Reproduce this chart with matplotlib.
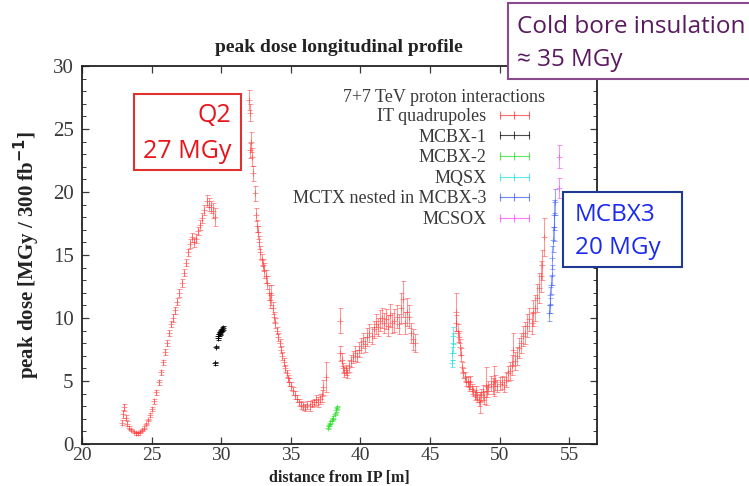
import matplotlib
matplotlib.use("Agg")
import matplotlib.pyplot as plt
from matplotlib.lines import Line2D
from matplotlib.patches import Rectangle

# IT quadrupoles (x [m], peak dose [MGy], error)
quad_x = [22.85, 22.95, 23.05, 23.15, 23.25, 23.4, 23.55, 23.7, 23.85, 24.0,
          24.15, 24.3, 24.45, 24.6, 24.75, 24.9, 25.05, 25.2, 25.35, 25.5,
          25.65, 25.8, 25.95, 26.1, 26.25, 26.4, 26.55, 26.7, 26.85, 27.0,
          27.15, 27.3, 27.45, 27.6, 27.75, 27.9, 28.05, 28.2, 28.35, 28.5,
          28.65, 28.8, 28.95, 29.1, 29.25, 29.4, 29.55,
          32.0, 32.05, 32.1, 32.15, 32.2, 32.3, 32.4, 32.5, 32.55, 32.65,
          32.7, 32.8, 32.9, 33.0, 33.1, 33.2, 33.3, 33.4, 33.5, 33.6,
          33.7, 33.8, 33.9, 34.0, 34.1, 34.2, 34.3, 34.4, 34.5, 34.6,
          34.7, 34.8, 34.9, 35.0, 35.15, 35.3, 35.45, 35.6, 35.75, 35.9,
          36.05, 36.2, 36.35, 36.5, 36.65, 36.8, 36.95, 37.1, 37.25, 37.35,
          37.5,
          38.5, 38.55, 38.65, 38.75, 38.85, 38.95, 39.05, 39.15, 39.3, 39.45,
          39.6, 39.75, 39.9, 40.05, 40.2, 40.35, 40.5, 40.65, 40.8, 40.95,
          41.1, 41.25, 41.4, 41.55, 41.7, 41.85, 42.0, 42.15, 42.3, 42.45,
          42.6, 42.75, 42.9, 43.05, 43.2, 43.35, 43.5, 43.65, 43.8, 43.95,
          46.85, 46.9, 47.0, 47.1, 47.15, 47.2, 47.3, 47.4, 47.5, 47.6,
          47.7, 47.8, 47.9, 48.0, 48.1, 48.2, 48.3, 48.4, 48.5, 48.6,
          48.7, 48.8, 48.9, 49.0, 49.1, 49.2, 49.35, 49.5, 49.6, 49.7,
          49.85, 50.0, 50.15, 50.3, 50.45, 50.6, 50.75, 50.9, 51.0, 51.1,
          51.25, 51.4, 51.55, 51.7, 51.85, 52.0, 52.15, 52.3, 52.4, 52.55,
          52.7, 52.85, 52.95, 53.05, 53.2]
quad_y = [1.7, 2.4, 2.9, 2.1, 1.6, 1.3, 1.1, 0.95, 0.85, 0.85,
          0.95, 1.1, 1.3, 1.6, 1.9, 2.3, 2.8, 3.4, 4.1, 4.9,
          5.7, 6.5, 7.3, 8.0, 8.8, 9.5, 10.0, 10.6, 11.3, 12.0,
          12.8, 13.6, 14.4, 15.2, 15.9, 16.4, 16.0, 16.3, 16.9, 17.4,
          17.9, 18.6, 19.3, 19.0, 18.8, 18.5, 18.0,
          27.3, 26.3, 23.3, 24.0, 22.8, 21.5, 19.9, 18.2, 17.3, 16.8,
          16.0, 15.2, 14.6, 14.2, 13.8, 13.3, 12.8, 12.0, 11.4, 11.8,
          10.8, 10.1, 9.6, 9.0, 8.5, 8.0, 7.5, 7.0, 6.5, 6.0,
          5.6, 5.2, 4.9, 4.6, 4.2, 3.9, 3.6, 3.3, 3.1, 3.0,
          2.9, 3.1, 3.0, 3.2, 3.3, 3.5, 3.3, 3.6, 3.8, 4.5,
          5.3,
          9.8, 7.2, 6.7, 6.0, 5.7, 5.9, 5.6, 6.2, 6.6, 6.9,
          7.2, 7.0, 7.5, 7.8, 8.2, 7.9, 8.5, 8.8, 8.6, 9.1,
          9.5, 9.3, 9.8, 10.0, 9.6, 9.9, 9.4, 10.2, 9.6, 9.8,
          10.1, 9.5, 10.8, 11.5, 9.6, 10.5, 10.1, 8.8, 8.3, 8.0,
          10.5, 9.6, 8.8, 8.5, 7.7, 7.1, 6.1, 5.6, 5.3, 5.0,
          4.9, 4.6, 4.9, 4.4, 4.2, 3.9, 4.1, 3.7, 3.5, 3.3,
          3.9, 4.1, 3.7, 4.6, 4.2, 4.5, 4.8, 4.6, 5.0, 4.9,
          4.6, 4.8, 4.9, 4.7, 5.1, 5.6, 5.8, 6.3, 7.5, 6.6,
          7.0, 7.6, 8.0, 8.6, 8.8, 9.4, 9.9, 9.6, 10.4, 10.8,
          11.6, 12.4, 13.3, 14.2, 16.4]
quad_err = [0.2, 0.3, 0.3, 0.2, 0.2, 0.1, 0.1, 0.1, 0.1, 0.1,
            0.1, 0.1, 0.1, 0.1, 0.1, 0.15, 0.15, 0.2, 0.2, 0.2,
            0.2, 0.2, 0.25, 0.25, 0.25, 0.25, 0.3, 0.3, 0.3, 0.3,
            0.3, 0.3, 0.3, 0.3, 0.35, 0.35, 0.35, 0.35, 0.35, 0.4,
            0.4, 0.4, 0.5, 0.5, 0.5, 0.6, 0.7,
            0.8, 0.7, 0.6, 0.8, 0.7, 0.6, 0.6, 0.5, 0.5, 0.5,
            0.5, 0.5, 0.5, 0.5, 0.6, 0.5, 0.5, 0.6, 0.6, 0.8,
            0.5, 0.4, 0.4, 0.3, 0.3, 0.3, 0.3, 0.3, 0.3, 0.3,
            0.3, 0.3, 0.3, 0.3, 0.3, 0.3, 0.3, 0.3, 0.3, 0.3,
            0.3, 0.3, 0.4, 0.3, 0.3, 0.4, 0.4, 0.4, 0.5, 0.6,
            1.2,
            1.0, 0.6, 0.5, 0.4, 0.4, 0.4, 0.4, 0.5, 0.5, 0.5,
            0.6, 0.5, 0.6, 0.6, 0.6, 0.6, 0.7, 0.7, 0.7, 0.7,
            0.8, 0.7, 0.8, 0.8, 0.8, 0.8, 0.8, 0.9, 0.8, 0.9,
            0.9, 0.8, 1.2, 1.4, 0.9, 1.1, 0.9, 0.8, 0.8, 0.7,
            1.5, 0.6, 0.7, 0.5, 0.6, 0.5, 0.4, 0.4, 0.4, 0.4,
            0.4, 0.4, 0.5, 0.4, 0.4, 0.4, 0.5, 0.4, 0.5, 0.8,
            0.5, 0.6, 0.5, 1.5, 0.5, 0.5, 0.6, 0.6, 1.2, 0.6,
            0.5, 0.5, 0.5, 0.6, 0.6, 0.6, 0.7, 0.8, 1.3, 0.7,
            0.7, 0.8, 0.8, 0.8, 0.9, 0.9, 0.9, 0.9, 1.0, 1.0,
            1.1, 1.2, 1.2, 1.2, 1.5]

mcbx1_x = [29.55, 29.65, 29.75, 29.8, 29.85, 29.9, 29.95, 30.0, 30.05, 30.1]
mcbx1_y = [6.4, 7.7, 8.4, 8.6, 8.7, 8.8, 8.9, 9.0, 9.1, 9.2]
mcbx1_err = [0.1, 0.1, 0.15, 0.15, 0.15, 0.15, 0.15, 0.15, 0.15, 0.15]

mcbx2_x = [37.65, 37.75, 37.85, 37.95, 38.05, 38.15, 38.25, 38.3]
mcbx2_y = [1.3, 1.5, 1.7, 1.9, 2.1, 2.4, 2.7, 2.9]
mcbx2_err = [0.1, 0.1, 0.1, 0.1, 0.1, 0.1, 0.15, 0.15]

mqsx_x = [46.55, 46.6, 46.65, 46.68]
mqsx_y = [6.4, 7.2, 8.0, 8.6]
mqsx_err = [0.3, 0.5, 0.8, 0.7]

mctx_x = [53.55, 53.6, 53.65, 53.7, 53.75, 53.8, 53.85, 53.9, 53.92, 53.95]
mctx_y = [10.4, 11.0, 11.8, 12.6, 13.4, 14.8, 16.2, 17.2, 18.2, 19.2]
mctx_err = [0.6, 0.6, 0.7, 0.7, 0.8, 0.9, 1.0, 1.1, 1.2, 1.0]

mcsox_x = [54.3, 54.3]
mcsox_y = [22.8, 20.3]
mcsox_err = [0.9, 0.8]

series = [
    ("IT quadrupoles", quad_x, quad_y, quad_err, "#ff3030", 0.5),
    ("MCBX-1", mcbx1_x, mcbx1_y, mcbx1_err, "#000000", 0.8),
    ("MCBX-2", mcbx2_x, mcbx2_y, mcbx2_err, "#22dd22", 0.6),
    ("MQSX", mqsx_x, mqsx_y, mqsx_err, "#22dddd", 0.6),
    ("MCTX nested in MCBX-3", mctx_x, mctx_y, mctx_err, "#3355ff", 0.5),
    ("MCSOX", mcsox_x, mcsox_y, mcsox_err, "#ff44ff", 0.6),
]

SERIF = "Liberation Serif"
GREY = "#3a3a3a"
W, H = 749, 486

fig = plt.figure(figsize=(W / 100, H / 100), dpi=100)
ax = fig.add_axes([82 / W, 42 / H, 515 / W, 378 / H])

handles = []
for label, x, y, e, c, a in series:
    ax.errorbar(x, y, yerr=e, fmt="+", color=c, ecolor=c, ms=4, mew=0.7,
                elinewidth=0.8, capsize=1.8, capthick=0.7, alpha=a)
    handles.append(Line2D([], [], color=c, lw=0.8, marker="|", ms=6,
                          mew=0.8, alpha=0.7, label=label))

ax.set_xlim(20, 57)
ax.set_ylim(0, 30)
ax.set_xticks(range(20, 56, 5))
ax.set_yticks(range(0, 31, 5))
ax.set_yticks(range(0, 31), minor=True)
ax.tick_params(which="both", direction="in", top=True, right=True,
               color=GREY, labelcolor=GREY, labelsize=15, pad=6)
ax.tick_params(axis="x", pad=2.5, labelsize=14)
ax.tick_params(which="major", length=5, width=0.9)
ax.tick_params(which="minor", length=3, width=0.7)
for lab in ax.get_xticklabels() + ax.get_yticklabels():
    lab.set_family(SERIF)
for s in ax.spines.values():
    s.set_linewidth(1.3)
    s.set_color("#222222")

fig.text(339 / W, 0.5 / H, "distance from IP [m]", family=SERIF,
         fontweight="bold", fontsize=11.5, color="#222222",
         ha="center", va="bottom")
ax.set_ylabel(r"peak dose [MGy / 300 fb$^{\mathbf{-1}}$]", family=SERIF,
              fontweight="bold", fontsize=15, color="#222222")
ax.yaxis.set_label_coords(-0.078, 0.5)
fig.text(339 / W, 1 - 48 / H, "peak dose longitudinal profile", family=SERIF,
         fontweight="bold", fontsize=14, color="#222222",
         ha="center", va="center")

# gnuplot style key
fig.text(545 / W, 1 - 98 / H, "7+7 TeV proton interactions", family=SERIF,
         fontsize=13, color=GREY, ha="right", va="center")
ax.legend(handles=handles, loc="upper right",
          bbox_to_anchor=(534 / W, 1 - 108 / H), bbox_transform=fig.transFigure,
          frameon=False, markerfirst=False, numpoints=3, handlelength=2.2,
          handletextpad=0.45, labelspacing=0.2, borderpad=0, borderaxespad=0,
          prop={"family": SERIF, "size": 13}, labelcolor=GREY)

# slide annotations
def box(x0, y0, x1, y1, edge):
    fig.add_artist(Rectangle((x0 / W, 1 - y1 / H), (x1 - x0) / W, (y1 - y0) / H,
                             transform=fig.transFigure, facecolor="white",
                             edgecolor=edge, lw=1.5, zorder=5))

SANS = "Open Sans"
box(134, 94, 241, 170, "#e03030")
fig.text(231 / W, 1 - 115 / H, "Q2", family=SANS, fontsize=18, color="#e8141b",
         ha="right", va="center", zorder=6)
fig.text(231 / W, 1 - 152 / H, "27 MGy", family=SANS, fontsize=18,
         color="#e8141b", ha="right", va="center", zorder=6)

box(508, 3, 760, 79, "#8a4a8e")
fig.text(517 / W, 1 - 27 / H, "Cold bore insulation", family=SANS, fontsize=17.5,
         color="#5a1a60", ha="left", va="center", zorder=6)
fig.text(517 / W, 1 - 60 / H, "≈ 35 MGy", family=SANS, fontsize=17.5,
         color="#5a1a60", ha="left", va="center", zorder=6)

box(563, 192, 682, 267, "#1f3a93")
fig.text(575 / W, 1 - 215 / H, "MCBX3", family=SANS, fontsize=17.5,
         color="#1a2af0", ha="left", va="center", zorder=6)
fig.text(575 / W, 1 - 248 / H, "20 MGy", family=SANS, fontsize=17.5,
         color="#1a2af0", ha="left", va="center", zorder=6)

fig.savefig("out.png", dpi=100)
